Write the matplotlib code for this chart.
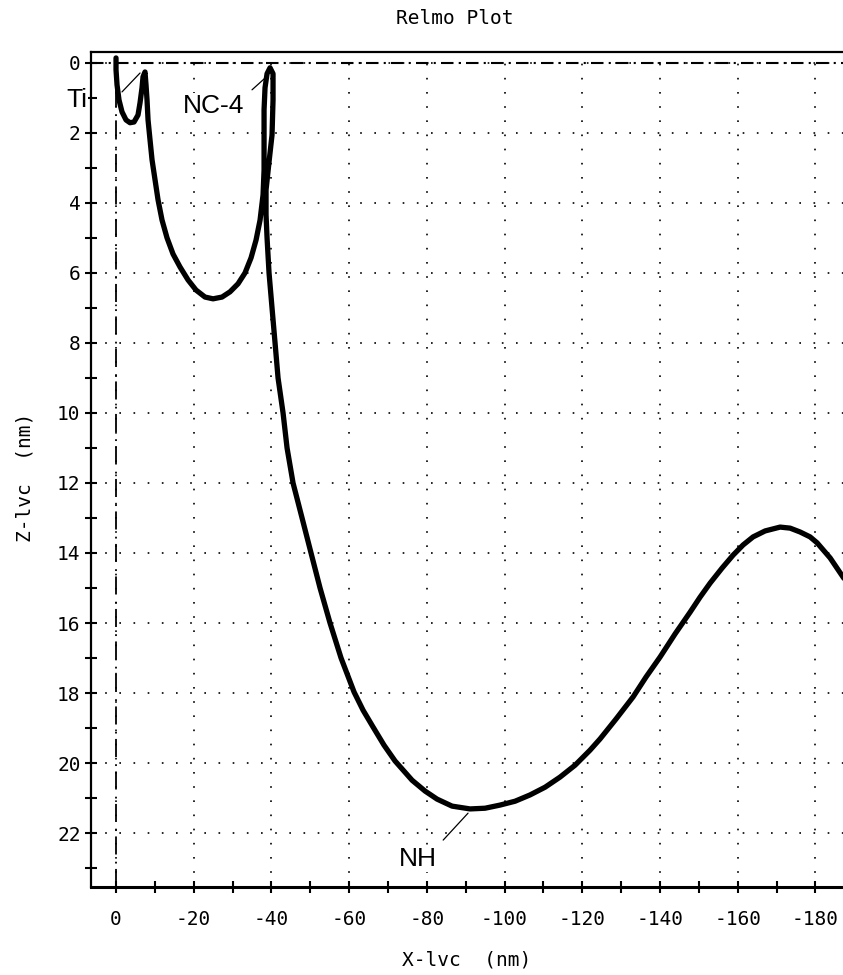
import matplotlib
matplotlib.use("Agg")
import matplotlib.pyplot as plt
from matplotlib.ticker import MultipleLocator

plt.rcParams['axes.unicode_minus'] = False

MONO = 'DejaVu Sans Mono'
SANS = 'Liberation Sans'

# Relmo trajectory (X-lvc, Z-lvc) in nm
# Ti loop
x_ti = [0.0, 0.0, -0.26, -0.77, -1.54, -2.57, -3.6, -4.63, -5.66, -6.18,
        -6.69, -6.95, -7.46]
z_ti = [-0.14, 0.2, 0.63, 1.06, 1.4, 1.63, 1.71, 1.69, 1.49, 1.14,
        0.71, 0.4, 0.26]
# Ti -> NC-4 bowl and NC-4 loop
x_nc4 = [-7.72, -7.98, -8.24, -8.75, -9.27, -10.04, -10.81, -11.84, -13.13,
         -14.67, -16.47, -18.53, -20.59, -22.91, -24.97, -27.28, -29.34,
         -31.4, -33.2, -34.75, -36.04, -37.07, -37.84, -38.1, -38.1, -38.1,
         -38.35, -38.87, -39.64, -40.41, -40.41, -40.15, -39.38, -38.61,
         -38.61]
z_nc4 = [0.63, 1.06, 1.63, 2.2, 2.77, 3.34, 3.91, 4.49, 5.0,
         5.46, 5.83, 6.2, 6.49, 6.69, 6.74, 6.69, 6.54,
         6.31, 6.0, 5.57, 5.06, 4.49, 3.77, 3.06, 2.2, 1.34,
         0.71, 0.31, 0.14, 0.31, 1.06, 2.06, 2.83, 3.63,
         4.34]
# NC-4 -> NH -> beyond
x_nh = [-38.87, -39.38, -40.15, -40.93, -41.7, -42.99, -44.02, -45.56, -47.88,
        -50.19, -52.51, -55.08, -57.92, -61.26, -63.58, -66.15, -68.98,
        -71.81, -76.19, -79.54, -82.63, -86.49, -91.12, -94.98, -98.84,
        -102.7, -106.56, -110.42, -114.29, -118.15, -122.01, -124.58,
        -128.7, -133.08, -136.42, -140.03, -143.89, -147.75, -150.32,
        -152.9, -155.98, -158.82, -161.39, -163.96, -167.05, -170.91,
        -173.49, -176.06, -178.63, -180.44, -183.78, -187.13, -188.93]
z_nh = [5.0, 6.0, 7.0, 8.0, 9.0, 10.0, 11.0, 12.0, 13.0,
        14.0, 15.0, 16.0, 17.0, 17.97, 18.49, 18.97, 19.49,
        19.94, 20.49, 20.8, 21.03, 21.23, 21.31, 21.29, 21.2,
        21.09, 20.91, 20.69, 20.4, 20.06, 19.63, 19.31,
        18.74, 18.11, 17.54, 16.97, 16.31, 15.69, 15.26,
        14.86, 14.43, 14.06, 13.77, 13.54, 13.37, 13.26,
        13.29, 13.4, 13.54, 13.71, 14.14, 14.69, 14.97]

x_lvc = x_ti + x_nc4 + x_nh
z_lvc = z_ti + z_nc4 + z_nh

# point labels: name, text position, leader start, leader end
labels = ['Ti', 'NC-4', 'NH']
label_pos = [(10.0, 1.06), (-25.0, 1.23), (-77.7, 22.75)]
leader_from = [(-1.54, 0.83), (-35.0, 0.77), (-84.2, 22.2)]
leader_to = [(-6.18, 0.29), (-38.4, 0.43), (-90.6, 21.43)]

fig = plt.figure(figsize=(8.43, 9.75), dpi=100)
ax = fig.add_axes([91 / 843, 1 - 887 / 975, 1 - 91 / 843, (887 - 52) / 975])

ax.set_xlim(6.44, -187.1)
ax.set_ylim(23.54, -0.31)

ax.xaxis.set_major_locator(MultipleLocator(20))
ax.xaxis.set_minor_locator(MultipleLocator(10))
ax.yaxis.set_major_locator(MultipleLocator(2))
ax.yaxis.set_minor_locator(MultipleLocator(1))

ax.grid(True, which='major', color='black', linewidth=1.2,
        linestyle=(0, (1, 7.5)))
ax.axhline(0, color='black', linewidth=1.5, linestyle=(0, (6, 2.5, 1, 2.5)))
ax.axvline(0, color='black', linewidth=1.3, linestyle=(0, (10, 3, 1, 4)))

ax.plot(x_lvc, z_lvc, color='black', linewidth=3.8,
        solid_joinstyle='round', solid_capstyle='round')

for name, pos, p0, p1 in zip(labels, label_pos, leader_from, leader_to):
    ax.annotate('', xy=p1, xytext=p0, annotation_clip=False,
                arrowprops=dict(arrowstyle='-', color='black', lw=0.9,
                                shrinkA=0, shrinkB=0))
    ax.text(pos[0], pos[1], name, fontsize=19, family=SANS,
            ha='center', va='center', clip_on=False, zorder=5,
            bbox=dict(facecolor='white', edgecolor='none', pad=0.5))

for side in ['left', 'top']:
    ax.spines[side].set_linewidth(1.6)
ax.spines['bottom'].set_linewidth(2.2)
ax.spines['right'].set_visible(False)

ax.tick_params(which='both', direction='inout', length=9, width=1.5,
               top=False, right=False)
ax.tick_params(axis='y', which='both', pad=3)
ax.tick_params(axis='x', which='both', pad=12)
for lbl in ax.get_xticklabels() + ax.get_yticklabels():
    lbl.set_fontfamily(MONO)
    lbl.set_fontsize(14)

fig.text(455 / 843, 1 - 19 / 975, 'Relmo Plot', family=MONO, fontsize=14,
         ha='center', va='center')
fig.text(467 / 843, 1 - 960 / 975, 'X-lvc  (nm)', family=MONO, fontsize=14,
         ha='center', va='center')
fig.text(25 / 843, 1 - 477 / 975, 'Z-lvc  (nm)', family=MONO, fontsize=14,
         ha='center', va='center', rotation=90)

fig.savefig('out.png', dpi=100)
